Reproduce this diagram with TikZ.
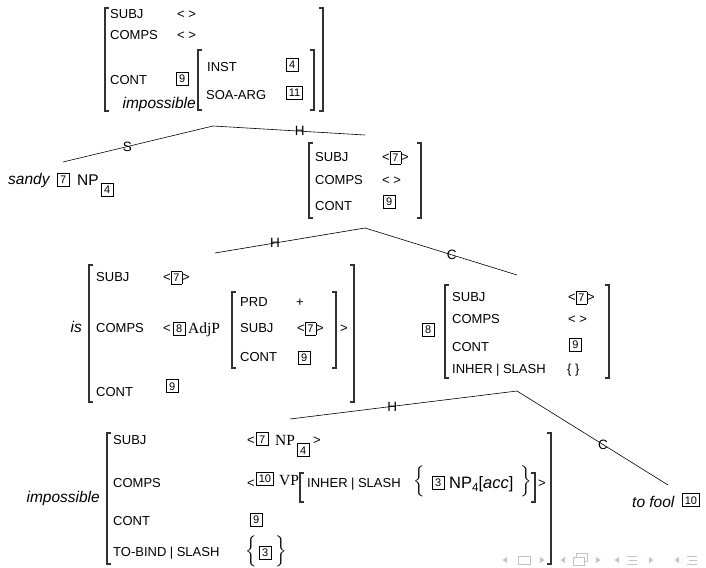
\documentclass[tikz,border=0pt]{standalone}
\usepackage{exscale}
\usepackage{fontspec}
\setmainfont{Liberation Sans}
\newfontfamily\serifx{Liberation Serif}
\definecolor{navc}{RGB}{192,192,228}
\definecolor{brkc}{RGB}{50,50,50}
\newcommand\tg[1]{{\setlength{\fboxsep}{2pt}\setlength{\fboxrule}{0.6pt}\fbox{\fontsize{11}{13}\selectfont #1}}}
\newcommand\pathsep{\hspace{3.5pt}|\hspace{3.5pt}}
\newcommand\bigbr[1]{\raisebox{0pt}[9pt][9pt]{$\Big#1$}}
\newcommand\lbr[3]{\draw[brk] ({#1+4},#2) -- (#1,#2) -- (#1,#3) -- ({#1+4},#3);}
\newcommand\rbr[3]{\draw[brk] ({#1-4},#2) -- (#1,#2) -- (#1,#3) -- ({#1-4},#3);}
\newcommand\navl[1]{\fill[navc] ({#1-2.5},560) -- ({#1+2},557) -- ({#1+2},563) -- cycle;}
\newcommand\navr[1]{\fill[navc] ({#1+2.5},560) -- ({#1-2},557) -- ({#1-2},563) -- cycle;}
\begin{document}
\begin{tikzpicture}[x=1pt,y=-1pt,
 feat/.style={font=\fontsize{13}{15}\selectfont, inner sep=0pt, anchor=west, text height=9.3pt, text depth=0pt},
 word/.style={font=\fontsize{15.5}{18}\selectfont\itshape, inner sep=0pt},
 bigw/.style={font=\fontsize{15.5}{18}\selectfont, inner sep=0pt},
 serifw/.style={font=\fontsize{15.5}{18}\selectfont\serifx, inner sep=0pt},
 delim/.style={inner sep=0pt, anchor=west, font=\fontsize{16}{19}\selectfont},
 tag/.style={draw, line width=0.6pt, font=\fontsize{11}{13}\selectfont, inner xsep=2.5pt, inner ysep=0pt, minimum height=13pt, minimum width=12pt, text height=8pt, text depth=0pt, anchor=west},
 edge/.style={line width=0.6pt},
 lbl/.style={font=\fontsize{13.5}{16}\selectfont, inner sep=0pt},
 brk/.style={line width=1.1pt, brkc}]
\useasboundingbox (0,0) rectangle (706,567);

% ---------- root AVM ----------
\lbr{105}{8}{111} \rbr{323}{8}{111}
\node[feat] (rs) at (110,14) {SUBJ};
\node[feat] (rsv) at (177,14) {< >};
\node[feat] (rc) at (110,35) {COMPS};
\node[feat] (rcv) at (177,35) {< >};
\node[feat] (rt) at (110,80) {CONT};
\node[tag] (r9) at (176,78.5) {9};
\lbr{198}{50}{110} \rbr{314}{50}{110}
\node[feat] (ri) at (207,67) {INST};
\node[tag] (r4) at (286,65) {4};
\node[feat] (ra) at (206,95) {SOA-ARG};
\node[tag] (r11) at (286,92.5) {11};
\node[word, anchor=base east] (rw) at (196,109) {impossible};

% ---------- tree level 1 ----------
\coordinate (n0) at (213,126);
\coordinate (s0) at (63,162);
\coordinate (h0) at (365,135);
\draw[edge] (n0) -- node[lbl,pos=0.57]{S} (s0);
\draw[edge] (n0) -- node[lbl,pos=0.57]{H} (h0);

% sandy
\node[word, anchor=base west] (sw) at (8,184) {sandy};
\node[tag] (s7) at (57,179.5) {7};
\node[bigw, anchor=base west] (snp) at (77,185) {NP};
\node[tag] (s4) at (101,189.5) {4};

% head AVM 1
\lbr{309}{143}{218} \rbr{421}{143}{218}
\node[feat] (hs) at (315,157) {SUBJ};
\node[feat] (hsv) at (382,157) {<\tg{7}>};
\node[feat] (hc) at (315,180) {COMPS};
\node[feat] (hcv) at (382,180) {< >};
\node[feat] (ht) at (315,206) {CONT};
\node[tag] (h9) at (383,201.5) {9};

% ---------- tree level 2 ----------
\coordinate (n1) at (365,228);
\coordinate (h1) at (215,253);
\coordinate (c1) at (517,275);
\draw[edge] (n1) -- node[lbl,pos=0.6]{H} (h1);
\draw[edge] (n1) -- node[lbl,pos=0.57]{C} (c1);

% is AVM
\node[word, anchor=base east] (isw) at (82,332) {is};
\lbr{89}{265}{402} \rbr{354}{265}{402}
\node[feat] (iss) at (96,277) {SUBJ};
\node[feat] (issv) at (163,277) {<\tg{7}>};
\node[feat] (isc) at (96,328) {COMPS};
\node[feat] (isclt) at (163,328) {<};
\node[tag] (is8) at (173,328.5) {8};
\node[serifw, anchor=base west] (adjp) at (188,333) {AdjP};
\lbr{232}{292}{368} \rbr{336}{292}{368}
\node[feat] (pprd) at (240,302) {PRD};
\node[feat] (pplus) at (296,302) {+};
\node[feat] (ps) at (240,328) {SUBJ};
\node[feat] (psv) at (297,328) {<\tg{7}>};
\node[feat] (pc) at (240,357) {CONT};
\node[tag] (p9) at (298,357.5) {9};
\node[feat] (isgt) at (340,328) {>};
\node[feat] (ist) at (96,392) {CONT};
\node[tag] (is9) at (166,386) {9};

% 8 AVM
\node[tag] (e8) at (422,329.5) {8};
\lbr{445}{285}{378} \rbr{609}{285}{378}
\node[feat] (es) at (452,297) {SUBJ};
\node[feat] (esv) at (568,297) {<\tg{7}>};
\node[feat] (ec) at (452,319) {COMPS};
\node[feat] (ecv) at (568,319) {< >};
\node[feat] (et) at (452,347) {CONT};
\node[tag] (e9) at (569,344.5) {9};
\node[feat] (ei) at (452,369) {INHER\pathsep SLASH};
\node[feat] (eiv) at (567,369) {\{ \}};

% ---------- tree level 3 ----------
\coordinate (n2) at (517,391);
\coordinate (h2) at (290,419);
\coordinate (c2) at (668,485);
\draw[edge] (n2) -- node[lbl,pos=0.55]{H} (h2);
\draw[edge] (n2) -- node[lbl,pos=0.57]{C} (c2);

% impossible AVM
\node[word, anchor=base east] (iw) at (100,502) {impossible};
\lbr{107}{433}{564} \rbr{551}{433}{564}
\node[feat] (is1) at (113,440) {SUBJ};
\node[feat] (ilt1) at (247,440) {<};
\node[tag] (i7) at (256,439) {7};
\node[serifw, anchor=base west] (inp) at (275,445) {NP};
\node[tag] (i4) at (297,450) {4};
\node[feat] (igt1) at (313,440) {>};
\node[feat] (ic) at (113,483) {COMPS};
\node[feat] (ilt2) at (247,483) {<};
\node[tag] (i10) at (256,478.5) {10};
\node[serifw, anchor=base west] (ivp) at (279,485) {VP};
\lbr{300}{473}{502} \rbr{535}{473}{502}
\node[feat] (iinh) at (307,483) {INHER\pathsep SLASH};
\node[delim] (ilb) at (413,486) {\bigbr\{};
\node[tag] (i3a) at (432,482.5) {3};
\node[anchor=base west, inner sep=0pt, font=\fontsize{16.5}{19}\selectfont] (inp2) at (449,488) {NP\raisebox{-3pt}{\fontsize{11.5}{13}\selectfont 4}[\textit{acc}]};
\node[delim] (irb) at (520,486) {\bigbr\}};
\node[feat] (igt2) at (538,483) {>};
\node[feat] (it) at (113,521) {CONT};
\node[tag] (i9) at (250,519.5) {9};
\node[feat] (itb) at (113,552) {TO-BIND\pathsep SLASH};
\node[delim] (ilb2) at (245,556) {\bigbr\{};
\node[tag] (i3b) at (259,552.5) {3};
\node[delim] (irb2) at (275,556) {\bigbr\}};

% to fool
\node[word, anchor=base west] (tf) at (632,507) {to fool};
\node[tag] (t10) at (682,500) {10};

% ---------- navigation symbols ----------
\navl{505}
\draw[navc, line width=0.8pt] (518,556) rectangle (530,564);
\navr{542}
\navl{563}
\draw[navc, line width=0.8pt] (576,553) rectangle (587,561);
\draw[navc, line width=0.8pt, fill=white] (573,557) rectangle (584,565);
\navr{598}
\navl{617}
\draw[navc, line width=0.9pt] (627,556) -- (637,556) (629,560) -- (637,560) (627,564) -- (637,564);
\navr{651}
\navl{677}
\draw[navc, line width=0.9pt] (687,556) -- (697,556) (689,560) -- (697,560) (687,564) -- (697,564);
\end{tikzpicture}
\end{document}
